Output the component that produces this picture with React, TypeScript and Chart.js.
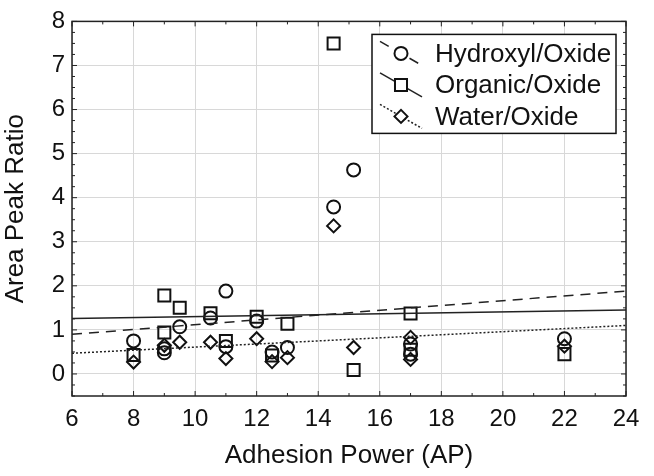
import React, { useEffect, useRef } from "react";
import { Chart, registerables } from "chart.js";

Chart.register(...registerables);

// ---- data ----
const hydroxylX = [8, 9, 9, 9.5, 10.5, 11, 11, 12, 12.5, 13, 14.5, 15.15, 17, 17, 22];
const hydroxylY = [0.75, 0.57, 0.48, 1.07, 1.27, 1.88, 0.62, 1.2, 0.5, 0.6, 3.79, 4.63, 0.68, 0.45, 0.8];

const organicX = [8, 9, 9, 9.5, 10.5, 11, 12, 12.5, 13, 14.5, 15.15, 17, 17, 22];
const organicY = [0.43, 1.78, 0.94, 1.5, 1.38, 0.75, 1.3, 0.42, 1.14, 7.5, 0.09, 1.37, 0.55, 0.45];

const waterX = [8, 9, 9.5, 10.5, 11, 12, 12.5, 13, 14.5, 15.15, 17, 17, 22];
const waterY = [0.27, 0.65, 0.72, 0.72, 0.35, 0.8, 0.28, 0.37, 3.36, 0.6, 0.83, 0.33, 0.63];

const trendX = [6, 24];
const hydroxylTrend = [0.9, 1.88];
const organicTrend = [1.26, 1.45];
const waterTrend = [0.47, 1.1];

const xTicks = [6, 8, 10, 12, 14, 16, 18, 20, 22, 24];
const yTicks = [0, 1, 2, 3, 4, 5, 6, 7, 8];
const xMinorStep = 1;
const yMinorStep = 0.25;

const seriesNames = ["Hydroxyl/Oxide", "Organic/Oxide", "Water/Oxide"];
const FONT = "'Liberation Sans', Arial, sans-serif";
const DASHES = [[10, 7], [], [2, 2]];

const zip = (xs: number[], ys: number[]) => xs.map((x, i) => ({ x, y: ys[i] }));

function drawMarker(ctx: CanvasRenderingContext2D, style: string, r: number, x: number, y: number) {
  ctx.beginPath();
  if (style === "circle") {
    ctx.arc(x, y, r, 0, Math.PI * 2);
  } else if (style === "rect") {
    const s = Math.SQRT1_2 * r;
    ctx.rect(x - s, y - s, 2 * s, 2 * s);
  } else {
    ctx.moveTo(x - r, y);
    ctx.lineTo(x, y - r);
    ctx.lineTo(x + r, y);
    ctx.lineTo(x, y + r);
    ctx.closePath();
  }
  ctx.fill();
  ctx.stroke();
}

const frameAndLegend = {
  id: "frameAndLegend",
  afterDraw(chart: any) {
    const { ctx, chartArea: a, scales } = chart;
    const xs = scales.x;
    const ys = scales.y;
    ctx.save();
    // frame
    ctx.strokeStyle = "#222";
    ctx.lineWidth = 1.5;
    ctx.strokeRect(a.left, a.top, a.right - a.left, a.bottom - a.top);
    // ticks
    ctx.lineWidth = 1;
    const drawX = (v: number, len: number) => {
      const p = xs.getPixelForValue(v);
      ctx.beginPath();
      ctx.moveTo(p, a.bottom);
      ctx.lineTo(p, a.bottom - len);
      ctx.moveTo(p, a.top);
      ctx.lineTo(p, a.top + len);
      ctx.stroke();
    };
    const drawY = (v: number, len: number) => {
      const p = ys.getPixelForValue(v);
      ctx.beginPath();
      ctx.moveTo(a.left, p);
      ctx.lineTo(a.left + len, p);
      ctx.moveTo(a.right, p);
      ctx.lineTo(a.right - len, p);
      ctx.stroke();
    };
    for (let v = xs.min; v <= xs.max + 1e-9; v += xMinorStep) {
      drawX(v, xTicks.includes(v) ? 5 : 3);
    }
    for (let v = ys.min; v <= ys.max + 1e-9; v += yMinorStep) {
      drawY(v, Math.abs(v - Math.round(v)) < 1e-9 ? 5 : 3);
    }
    // legend
    const L = a.right - 254;
    const T = a.top + 13;
    const W = 244;
    const H = 99;
    ctx.fillStyle = "#fff";
    ctx.fillRect(L, T, W, H);
    ctx.strokeStyle = "#111";
    ctx.lineWidth = 1.5;
    ctx.strokeRect(L, T, W, H);
    const styles = ["circle", "rect", "rectRot"];
    const radii = [6.5, 8.5, 6.5];
    seriesNames.forEach((name, i) => {
      const cy = T + 19 + i * 31.5;
      const x0 = L + 8;
      ctx.save();
      ctx.strokeStyle = "#222";
      ctx.lineWidth = 1.5;
      ctx.setLineDash(DASHES[i]);
      ctx.beginPath();
      ctx.moveTo(x0, cy - 12);
      ctx.lineTo(x0 + 42, cy + 12);
      ctx.stroke();
      ctx.restore();
      ctx.save();
      ctx.fillStyle = "#fff";
      ctx.strokeStyle = "#111";
      ctx.lineWidth = 2;
      drawMarker(ctx, styles[i], radii[i], x0 + 21, cy);
      ctx.restore();
      ctx.fillStyle = "#111";
      ctx.font = `26px ${FONT}`;
      ctx.textBaseline = "middle";
      ctx.textAlign = "left";
      ctx.fillText(name, L + 63, cy + 1);
    });
    ctx.restore();
  },
};

export default function App() {
  const ref = useRef<HTMLCanvasElement | null>(null);
  useEffect(() => {
    if (!ref.current) return;
    const markerBase = {
      type: "scatter" as const,
      showLine: false,
      borderColor: "#111",
      backgroundColor: "rgba(0,0,0,0)",
      pointBorderWidth: 2,
    };
    const lineBase = {
      type: "line" as const,
      showLine: true,
      pointRadius: 0,
      borderColor: "#222",
      borderWidth: 1.5,
      fill: false,
    };
    const chart = new Chart(ref.current, {
      type: "scatter",
      data: {
        datasets: [
          { ...lineBase, label: "h-trend", data: zip(trendX, hydroxylTrend), borderDash: DASHES[0] },
          { ...lineBase, label: "o-trend", data: zip(trendX, organicTrend) },
          { ...lineBase, label: "w-trend", data: zip(trendX, waterTrend), borderDash: DASHES[2] },
          { ...markerBase, label: seriesNames[0], data: zip(hydroxylX, hydroxylY), pointStyle: "circle", pointRadius: 6.5 },
          { ...markerBase, label: seriesNames[1], data: zip(organicX, organicY), pointStyle: "rect", pointRadius: 8.5 },
          { ...markerBase, label: seriesNames[2], data: zip(waterX, waterY), pointStyle: "rectRot", pointRadius: 6.5 },
        ] as any,
      },
      options: {
        responsive: false,
        animation: false,
        devicePixelRatio: 1,
        layout: { padding: { top: 20, right: 28, left: 0, bottom: 0 } },
        plugins: { legend: { display: false }, tooltip: { enabled: false } },
        scales: {
          x: {
            type: "linear",
            min: 6,
            max: 24,
            afterBuildTicks: (s: any) => {
              s.ticks = xTicks.map((v) => ({ value: v }));
            },
            afterFit: (s: any) => {
              s.height = 80;
            },
            ticks: { color: "#111", font: { family: FONT, size: 24 }, padding: 9, maxRotation: 0 },
            grid: { color: "#d8d8d8", lineWidth: 1, drawTicks: false },
            border: { display: false },
            title: {
              display: true,
              text: "Adhesion Power (AP)",
              color: "#111",
              font: { family: FONT, size: 26 },
              padding: { top: 0, bottom: 5 },
            },
          },
          y: {
            type: "linear",
            min: -0.5,
            max: 8,
            afterBuildTicks: (s: any) => {
              s.ticks = yTicks.map((v) => ({ value: v }));
            },
            afterFit: (s: any) => {
              s.width = 72;
            },
            ticks: { color: "#111", font: { family: FONT, size: 24 }, padding: 7 },
            grid: { color: "#d8d8d8", lineWidth: 1, drawTicks: false },
            border: { display: false },
            title: {
              display: true,
              text: "Area Peak Ratio",
              color: "#111",
              font: { family: FONT, size: 26 },
              padding: { top: 0, bottom: 0 },
            },
          },
        },
      },
      plugins: [frameAndLegend],
    });
    return () => chart.destroy();
  }, []);
  return (
    <div style={{ position: "fixed", left: 0, top: 0, width: 654, height: 476, background: "#fff" }}>
      <canvas ref={ref} width={654} height={476} style={{ width: 654, height: 476, display: "block" }} />
    </div>
  );
}
